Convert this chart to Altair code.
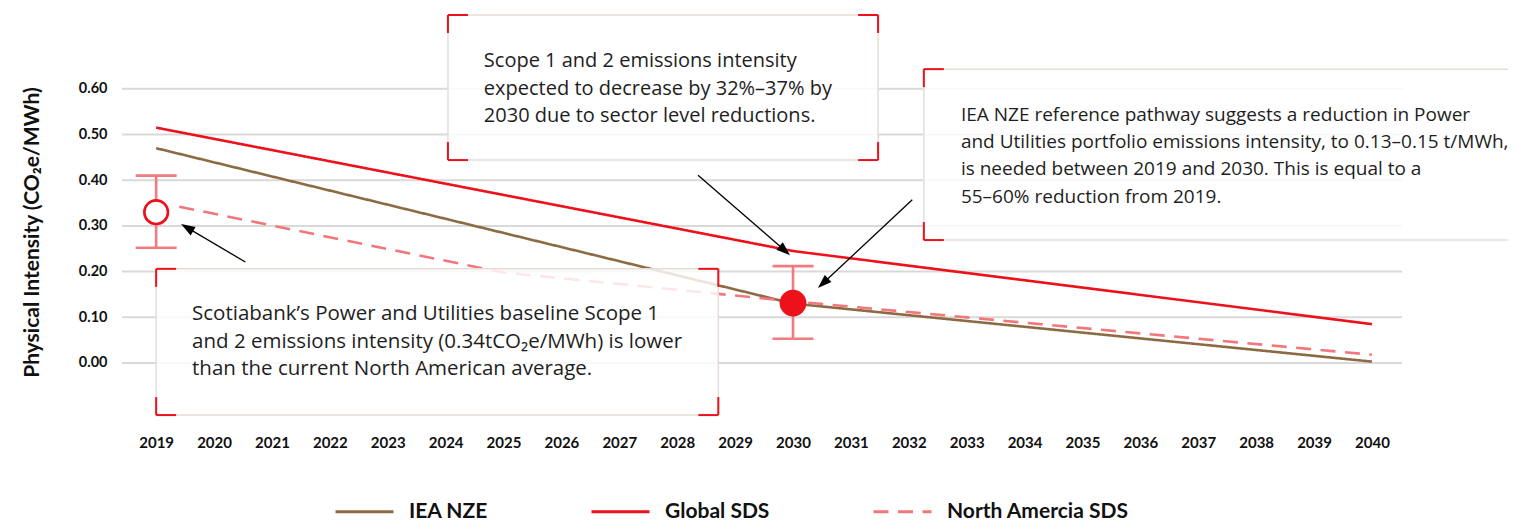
import math
import altair as alt
import pandas as pd

# ---------------- data ----------------
series_names = ["IEA NZE", "Global SDS", "North Amercia SDS"]
series_colors = ["#8C6B43", "#EC111A", "#F2777C"]

nze_years = [2019, 2030, 2040]
nze_values = [0.470, 0.130, 0.003]
global_years = [2019, 2030, 2040]
global_values = [0.515, 0.245, 0.085]
na_years = [2019.4, 2025, 2030, 2040]
na_values = [0.342, 0.198, 0.135, 0.018]

marker_years = [2019, 2030]
marker_values = [0.330, 0.131]
marker_low = [0.252, 0.053]
marker_high = [0.410, 0.212]
marker_filled = [False, True]

y_ticks = [0.0, 0.1, 0.2, 0.3, 0.4, 0.5, 0.6]
x_ticks = list(range(2019, 2041))

# annotation boxes (data units)
box_left = [2024.04, 2019.0, 2032.26]
box_right = [2031.47, 2028.71, 2045.0]
box_top = [0.7615, 0.206, 0.643]
box_bottom = [0.444, -0.114, 0.269]
box_right_brackets = [True, True, False]

ann_x = [2024.66, 2019.62, 2032.9]
ann_y = [0.682, 0.128, 0.563]
ann_size = [20, 20.5, 19]
ann_text = [
    "Scope 1 and 2 emissions intensity\nexpected to decrease by 32%\u201337% by\n2030 due to sector level reductions.",
    "Scotiabank\u2019s Power and Utilities baseline Scope 1\nand 2 emissions intensity (0.34tCO\u2082e/MWh) is lower\nthan the current North American average.",
    "IEA NZE reference pathway suggests a reduction in Power\nand Utilities portfolio emissions intensity, to 0.13\u20130.15 t/MWh,\nis needed between 2019 and 2030. This is equal to a\n55\u201360% reduction from 2019.",
]

arrow_tail_x = [2020.54, 2028.36, 2032.06]
arrow_tail_y = [0.221, 0.411, 0.357]
arrow_tip_x = [2019.43, 2029.95, 2030.43]
arrow_tip_y = [0.304, 0.236, 0.164]

# ---------------- layout ----------------
W, H = 1386, 415
XMIN, XMAX = 2018.41, 2042.35
YMIN, YMAX = -0.1357, 0.7724
GRID_END = 2040.52
PXX = W / (XMAX - XMIN)
PXY = H / (YMAX - YMIN)

FONT = "Lato"
TFONT = "Open Sans"

xs = alt.Scale(domain=[XMIN, XMAX], nice=False, zero=False)
ys = alt.Scale(domain=[YMIN, YMAX], nice=False, zero=False)
xaxis = alt.Axis(values=x_ticks, format="d", grid=False, ticks=False, domain=False,
                 labelFont=FONT, labelFontWeight="bold", labelFontSize=15, labelColor="#111",
                 labelPadding=10, labelFlush=False, labelOverlap=False, title=None)
yaxis = alt.Axis(values=y_ticks, format=".2f", grid=False, ticks=False, domain=False,
                 labelFont=FONT, labelFontWeight="bold", labelFontSize=14.5, labelColor="#111",
                 labelPadding=15, title="Physical Intensity (CO\u2082e/MWh)",
                 titleFont=FONT, titleFontSize=21, titleFontWeight="bold", titleColor="#111",
                 titleX=-90, titleY=222, titleAngle=270, titleAlign="center", titleBaseline="middle")


def X(f):
    return alt.X(f, type="quantitative", scale=xs, axis=xaxis)


def Y(f):
    return alt.Y(f, type="quantitative", scale=ys, axis=yaxis)


# line data
rows = []
for name, yrs, vals in [(series_names[0], nze_years, nze_values),
                        (series_names[1], global_years, global_values),
                        (series_names[2], na_years, na_values)]:
    for i, (a, b) in enumerate(zip(yrs, vals)):
        rows.append({"series": name, "year": a, "value": b, "order": i})
lines_df = pd.DataFrame(rows)

grid_df = pd.DataFrame({"y": y_ticks, "x": [XMIN] * len(y_ticks), "x2": [GRID_END] * len(y_ticks)})

mk_df = pd.DataFrame({"year": marker_years, "value": marker_values, "low": marker_low,
                      "high": marker_high, "filled": marker_filled})
mk_df["c1"] = mk_df["year"] - 20.5 / PXX
mk_df["c2"] = mk_df["year"] + 20.5 / PXX

box_df = pd.DataFrame({"l": box_left, "r": box_right, "t": box_top, "b": box_bottom})

hb = 20 / PXX
vb = 18 / PXY
br = []
for l, r, t, b, rb in zip(box_left, box_right, box_top, box_bottom, box_right_brackets):
    br += [
        {"x": l, "x2": l + hb, "y": t, "y2": t},
        {"x": l, "x2": l, "y": t, "y2": t - vb},
        {"x": l, "x2": l + hb, "y": b, "y2": b},
        {"x": l, "x2": l, "y": b, "y2": b + vb},
    ]
    if rb:
        br += [
            {"x": r - hb, "x2": r, "y": t, "y2": t},
            {"x": r, "x2": r, "y": t, "y2": t - vb},
            {"x": r - hb, "x2": r, "y": b, "y2": b},
            {"x": r, "x2": r, "y": b, "y2": b + vb},
        ]
br_df = pd.DataFrame(br)

txt_df = pd.DataFrame({"x": ann_x, "y": ann_y, "t": ann_text, "fs": ann_size})

HEAD = 14
arr = []
for tx, ty, px, py in zip(arrow_tail_x, arrow_tail_y, arrow_tip_x, arrow_tip_y):
    dx = (px - tx) * PXX
    dy = -(py - ty) * PXY
    ln = math.hypot(dx, dy)
    ux, uy = dx / ln, dy / ln
    ang = math.degrees(math.atan2(dx, -dy)) % 360
    cx = px - ux * HEAD / 2 / PXX
    cy = py + uy * HEAD / 2 / PXY
    arr.append({"x": tx, "y": ty, "x2": cx, "y2": cy, "hx": cx, "hy": cy, "ang": ang})
arr_df = pd.DataFrame(arr)

# ---------------- layers ----------------
grid = alt.Chart(grid_df).mark_rule(color="#d9d9d9", strokeWidth=2).encode(
    x=X("x"), x2="x2", y=Y("y"))

lines = alt.Chart(lines_df).mark_line(strokeWidth=2.6).encode(
    x=X("year"), y=Y("value"), order="order:Q",
    color=alt.Color("series:N", scale=alt.Scale(domain=series_names, range=series_colors),
                    legend=alt.Legend(title=None)),
    strokeDash=alt.StrokeDash("series:N", scale=alt.Scale(domain=series_names,
                                                          range=[[1, 0], [1, 0], [15, 9.5]]),
                              legend=alt.Legend(title=None)),
)

err = alt.Chart(mk_df).mark_rule(color="#F27B80", strokeWidth=2.6).encode(
    x=X("year"), y=Y("low"), y2="high")
cap_lo = alt.Chart(mk_df).mark_rule(color="#F27B80", strokeWidth=2.6).encode(
    x=X("c1"), x2="c2", y=Y("low"))
cap_hi = alt.Chart(mk_df).mark_rule(color="#F27B80", strokeWidth=2.6).encode(
    x=X("c1"), x2="c2", y=Y("high"))

hollow = alt.Chart(mk_df).transform_filter("!datum.filled").mark_point(
    shape="circle", size=560, fill="white", fillOpacity=1, stroke="#EC111A", strokeWidth=2.6,
    opacity=1).encode(x=X("year"), y=Y("value"))
solid = alt.Chart(mk_df).transform_filter("datum.filled").mark_point(
    shape="circle", size=720, filled=True, color="#EC111A", opacity=1).encode(
    x=X("year"), y=Y("value"))

boxes = alt.Chart(box_df).mark_rect(fill="white", fillOpacity=0.82, stroke="#e6ddd6",
                                   strokeWidth=1.5).encode(
    x=X("l"), x2="r", y=Y("t"), y2="b")

brackets = alt.Chart(br_df).mark_rule(color="#EC111A", strokeWidth=2).encode(
    x=X("x"), x2="x2", y=Y("y"), y2="y2")

texts = alt.Chart(txt_df).mark_text(align="left", baseline="top", font=TFONT,
                                    lineBreak="\n", lineHeight=27.3, color="#1e1e1e").encode(
    x=X("x"), y=Y("y"), text="t:N", size=alt.Size("fs:Q", scale=None))

arrow_lines = alt.Chart(arr_df).mark_rule(color="#000", strokeWidth=1.3).encode(
    x=X("x"), x2="x2", y=Y("y"), y2="y2")
arrow_heads = alt.Chart(arr_df).mark_point(
    shape="M0,-1L0.7,1L-0.7,1Z", size=HEAD * HEAD, filled=True, color="#000", opacity=1).encode(
    x=X("hx"), y=Y("hy"), angle=alt.Angle("ang:Q", scale=None))

chart = alt.layer(grid, lines, err, cap_lo, cap_hi, hollow, solid, boxes, brackets, texts,
                  arrow_lines, arrow_heads).properties(
    width=W, height=H,
    autosize=alt.AutoSizeParams(type="none"),
    padding={"left": 114, "top": 2, "right": 0, "bottom": 96},
).configure_view(stroke=None).configure_legend(
    orient="none", legendX=212, legendY=471, direction="horizontal", padding=0,
    symbolType="stroke", symbolSize=3364, symbolStrokeWidth=3, labelFont=FONT,
    labelFontSize=21, labelFontWeight="bold", labelColor="#111", labelOffset=14,
    labelLimit=400, columnPadding=97, titleFontSize=0,
)

chart.save("out.html", embed_options={"renderer": "svg", "actions": False})
